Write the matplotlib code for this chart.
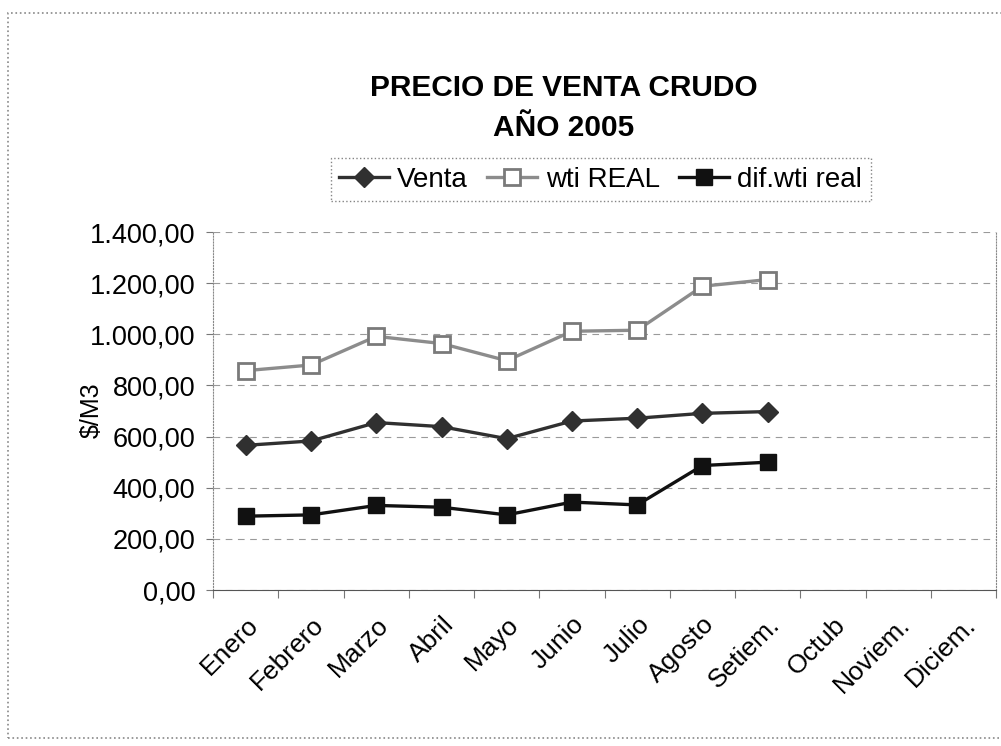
import matplotlib.pyplot as plt
from matplotlib.patches import Rectangle
from matplotlib.ticker import FuncFormatter

meses = ['Enero', 'Febrero', 'Marzo', 'Abril', 'Mayo', 'Junio', 'Julio',
         'Agosto', 'Setiem.', 'Octub', 'Noviem.', 'Diciem.']
venta = [566, 583, 655, 639, 592, 661, 672, 691, 698]
wti_real = [858, 880, 992, 964, 897, 1012, 1016, 1188, 1214]
dif_wti = [289, 294, 331, 324, 294, 344, 333, 487, 500]
yticks = [0, 200, 400, 600, 800, 1000, 1200, 1400]

def fmt_es(v, pos=None):
    s = f'{v:,.2f}'
    return s.replace(',', 'X').replace('.', ',').replace('X', '.')

plt.rcParams['font.family'] = ['Liberation Sans', 'DejaVu Sans']

fig = plt.figure(figsize=(10.01, 7.46), dpi=100)
ax = fig.add_axes([0.213, 0.209, 0.782, 0.480])

x = list(range(len(venta)))
ax.plot(x, wti_real, color='#8c8c8c', lw=2.4, marker='s', ms=11,
        mfc='white', mec='#7a7a7a', mew=2, label='wti REAL', zorder=3)
ax.plot(x, venta, color='#303030', lw=2.4, marker='D', ms=10,
        mfc='#303030', mec='#303030', label='Venta', zorder=4)
ax.plot(x, dif_wti, color='#111111', lw=2.4, marker='s', ms=11,
        mfc='#111111', mec='#111111', label='dif.wti real', zorder=4)

ax.set_xlim(-0.5, len(meses) - 0.5)
ax.set_ylim(0, 1400)
ax.set_yticks(yticks)
ax.yaxis.set_major_formatter(FuncFormatter(fmt_es))
ax.grid(axis='y', color='#9a9a9a', ls=(0, (6, 5)), lw=0.8)

# category boundaries carry the ticks, month names sit between them
ax.set_xticks([i - 0.5 for i in range(len(meses) + 1)])
ax.set_xticklabels([])
ax.set_xticks(range(len(meses)), minor=True)
ax.set_xticklabels(meses, minor=True, rotation=45, ha='right',
                   rotation_mode='anchor', fontsize=19)
ax.tick_params(axis='x', which='minor', length=0, pad=16)
ax.tick_params(axis='x', which='major', length=6, color='#777777', direction='out')
ax.tick_params(axis='y', labelsize=19.5, length=5, color='#777777', pad=8)

ax.spines['top'].set_visible(False)
ax.spines['left'].set_color('#888888')
ax.spines['left'].set_linestyle(':')
ax.spines['right'].set_color('#888888')
ax.spines['right'].set_linestyle(':')
ax.spines['bottom'].set_color('#555555')
fig.text(0.092, 0.45, '$/M3', rotation=90, ha='center', va='center', fontsize=18)

h, l = ax.get_legend_handles_labels()
order = [1, 0, 2]
leg = fig.legend([h[i] for i in order], [l[i] for i in order], ncol=3,
                 loc='center', bbox_to_anchor=(0.6, 0.759), fontsize=20,
                 frameon=True, fancybox=False, handlelength=1.8,
                 handletextpad=0.3, columnspacing=0.7, borderpad=0.3)
leg.get_frame().set_edgecolor('#666666')
leg.get_frame().set_linestyle(':')
leg.get_frame().set_linewidth(1)

fig.text(0.563, 0.882, 'PRECIO DE VENTA CRUDO', ha='center', va='center',
         fontsize=21.5, fontweight='bold')
fig.text(0.563, 0.829, 'AÑO 2005', ha='center', va='center',
         fontsize=21.5, fontweight='bold')

fig.patches.append(Rectangle((0.008, 0.011), 1.1, 0.972, transform=fig.transFigure,
                             fill=False, ec='#888888', ls=':', lw=1.2))

plt.savefig('out.png', dpi=100)
